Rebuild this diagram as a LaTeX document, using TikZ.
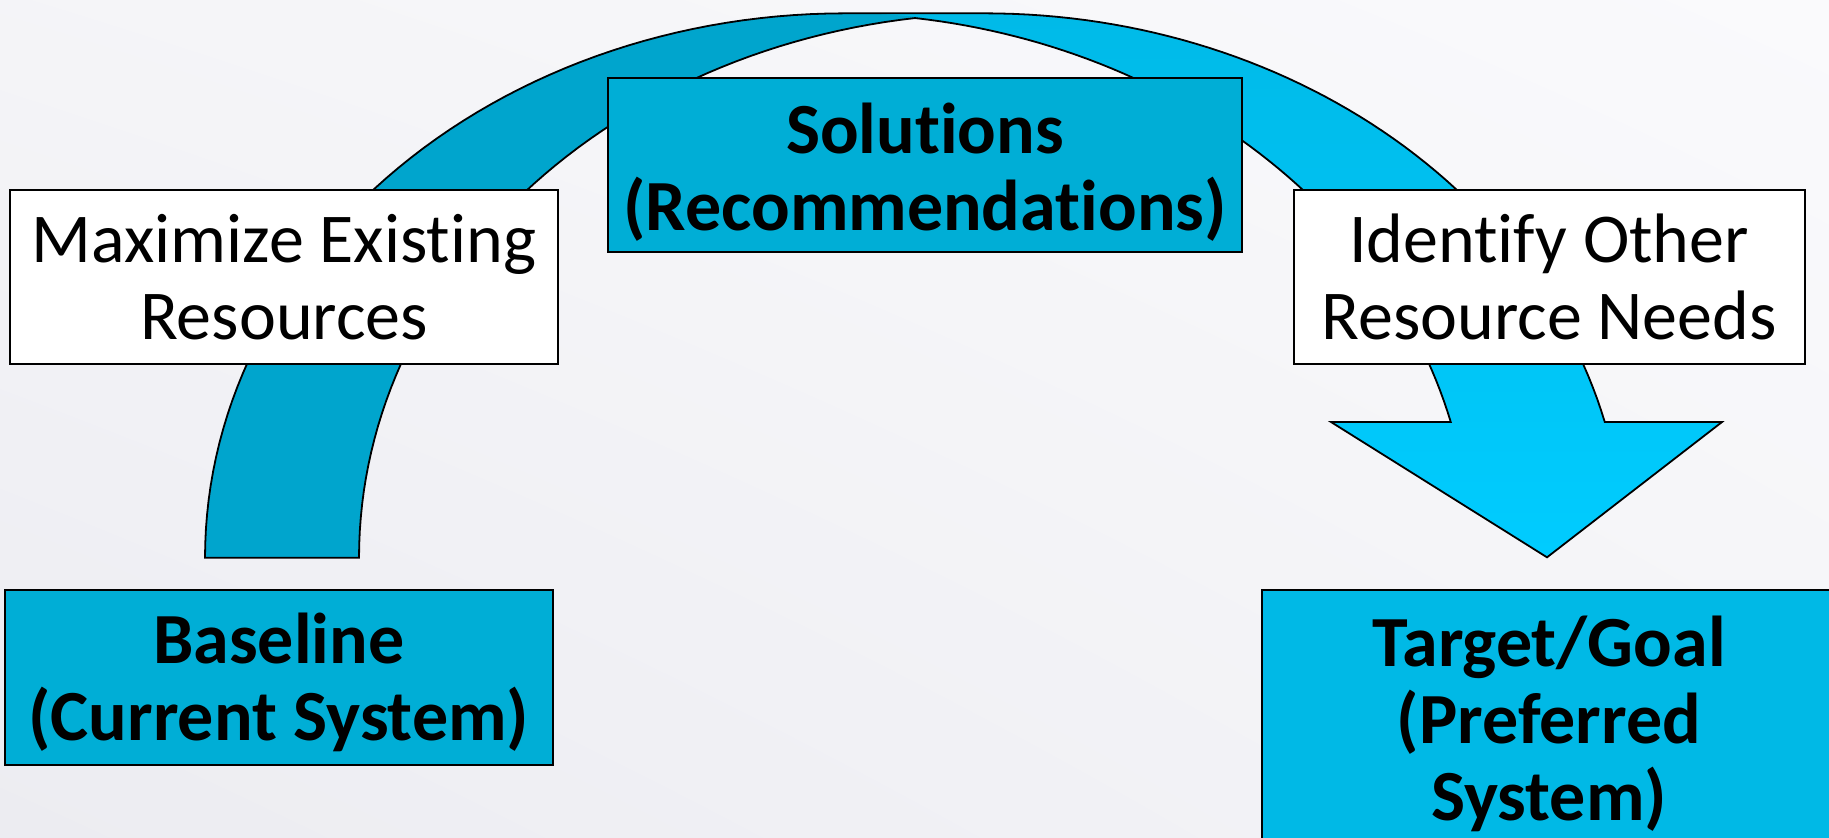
\documentclass[tikz,border=0pt]{standalone}
\usepackage{fontspec}
\setmainfont{Carlito}[Ligatures={NoCommon,NoDiscretionary,NoContextual}]
\usetikzlibrary{shadings}
\definecolor{bgA}{HTML}{ECECF1}
\definecolor{bgB}{HTML}{FAFAFC}
\definecolor{bodyTop}{HTML}{00BAE8}
\definecolor{bodyBot}{HTML}{00CCFF}
\definecolor{tailC}{HTML}{00A5CD}
\definecolor{boxA}{HTML}{00AED6}
\definecolor{boxB}{HTML}{00B9E6}
\begin{document}
\begin{tikzpicture}[x=0.5pt,y=-0.5pt,
  outline/.style={draw=black, line width=0.9pt},
  box/.style={draw=black, line width=1pt, inner sep=0pt, outer sep=0pt},
  whitebox/.style={box, fill=white},
  bluebox/.style={box, fill=boxA},
  txt/.style={align=center, inner sep=0pt, font=\fontsize{35}{38.5}\selectfont},
  btxt/.style={txt, font=\bfseries\fontsize{36}{38.5}\selectfont}]
\clip (0,0) rectangle (1829,837);
\shade[lower left=bgA, upper right=bgB, lower right=bgB!60!bgA, upper left=bgB!60!bgA] (0,837) rectangle (1829,0);

% key points of the curved arrow
\coordinate (cross) at (915,18.0);
\coordinate (otop) at (985,13.3);
\coordinate (ltop) at (845,13.3);
\coordinate (owing) at (1722,422);
\coordinate (tip) at (1547,557.3);
\coordinate (lwing) at (1331,422);
\coordinate (bout) at (205,557.7);

% body of arrow (lighter)
\shade[top color=bodyTop, bottom color=bodyBot]
  (tip) -- (lwing)
  -- plot[domain=345.57:277.54, samples=60] ({831+640*cos(\x)},{557.7+544.4*sin(\x)})
  -- (ltop) -- (otop)
  -- plot[domain=270:345.57, samples=60] ({985+640*cos(\x)},{557.7+544.4*sin(\x)})
  -- (owing) -- cycle;
% tail (darker)
\fill[tailC]
  plot[domain=262.46:180, samples=60] ({999+640*cos(\x)},{557.7+544.4*sin(\x)})
  -- (bout)
  -- plot[domain=180:276.9, samples=60] ({845+640*cos(\x)},{557.7+544.4*sin(\x)})
  -- cycle;
% outline
\draw[outline, line join=miter]
  plot[domain=262.46:180, samples=60] ({999+640*cos(\x)},{557.7+544.4*sin(\x)})
  -- (bout)
  -- plot[domain=180:270, samples=60] ({845+640*cos(\x)},{557.7+544.4*sin(\x)})
  -- plot[domain=270:345.57, samples=60] ({985+640*cos(\x)},{557.7+544.4*sin(\x)})
  -- (owing) -- (tip) -- (lwing)
  -- plot[domain=345.57:277.54, samples=60] ({831+640*cos(\x)},{557.7+544.4*sin(\x)})
  -- cycle;

% boxes
\node[whitebox, minimum width=274pt, minimum height=87pt] (max) at (284,277) {};
\node[txt] (maxt) at (max.center) {Maximize Existing\\Resources};
\node[bluebox, minimum width=317pt, minimum height=87pt] (sol) at (925,165) {};
\node[btxt, yshift=-3.5pt] (solt) at (sol.center) {Solutions\\(Recommendations)};
\node[whitebox, minimum width=255.5pt, minimum height=87pt] (idf) at (1549,277) {};
\node[txt] (idft) at (idf.center) {Identify Other\\Resource Needs};
\node[bluebox, minimum width=274.25pt, minimum height=87.5pt] (base) at (278.75,677) {};
\node[btxt, yshift=-2.5pt] (baset) at (base.center) {Baseline\\(Current System)};
\node[bluebox, fill=boxB, minimum width=287pt, minimum height=130pt] (tgt) at (1549,720) {};
\node[btxt, yshift=-2pt] (tgtt) at (tgt.center) {Target/Goal\\(Preferred\\System)};
\end{tikzpicture}
\end{document}
